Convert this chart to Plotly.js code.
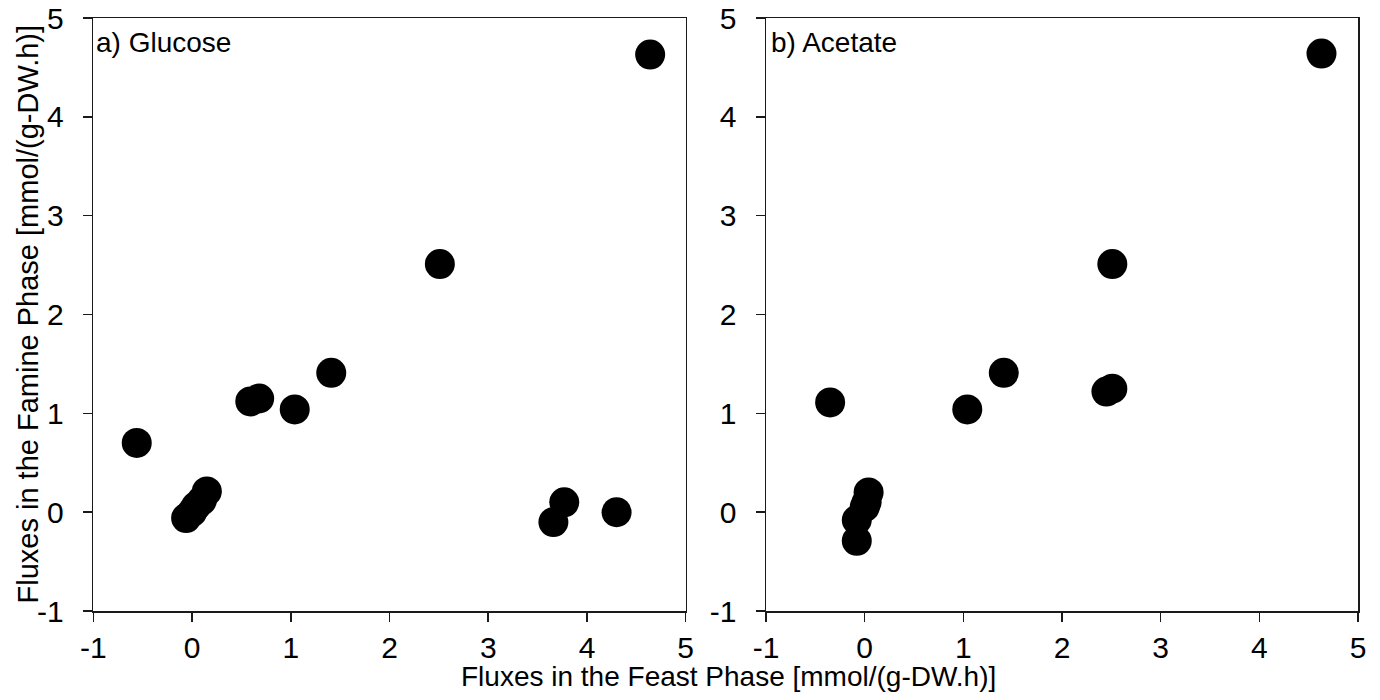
<!DOCTYPE html>
<html>
<head>
<meta charset="utf-8">
<script src="https://cdn.plot.ly/plotly-3.0.1.min.js"></script>
<style>html,body{margin:0;padding:0;background:#fff;}#chart{width:1380px;height:700px;}</style>
</head>
<body>
<div id="chart"></div>
<script>
const glucoseX = [4.64, 2.51, 1.41, 1.04, 0.59, 0.68, -0.56, -0.06, 0.00, 0.04, 0.10, 0.15, 3.66, 3.77, 4.30];
const glucoseY = [4.63, 2.51, 1.41, 1.04, 1.12, 1.15, 0.70, -0.06, 0.00, 0.06, 0.12, 0.21, -0.10, 0.10, 0.00];
const acetateX = [4.63, 2.51, 1.41, 1.04, 2.45, 2.51, -0.35, 0.04, 0.02, 0.00, -0.08, -0.08];
const acetateY = [4.64, 2.51, 1.41, 1.04, 1.22, 1.25, 1.11, 0.20, 0.10, 0.05, -0.08, -0.29];
const tickVals = [-1, 0, 1, 2, 3, 4, 5];
const panelLabels = ["a) Glucose", "b) Acetate"];
const xTitle = "Fluxes in the Feast Phase [mmol/(g-DW.h)]";
const yTitle = "Fluxes in the Famine Phase [mmol/(g-DW.h)]";

const W = 1380, H = 700;
const FONT = 'Arial, "Liberation Sans", sans-serif';
const marker = {size: 30, color: '#000', line: {width: 0}};

const traces = [
  {x: glucoseX, y: glucoseY, type: 'scatter', mode: 'markers', marker: marker, xaxis: 'x', yaxis: 'y', hoverinfo: 'x+y'},
  {x: acetateX, y: acetateY, type: 'scatter', mode: 'markers', marker: marker, xaxis: 'x2', yaxis: 'y2', hoverinfo: 'x+y'}
];

function ax(extra) {
  return Object.assign({
    range: [-1, 5], tickvals: tickVals, ticktext: tickVals.map(String),
    showgrid: false, zeroline: false, showline: true, mirror: true,
    linecolor: '#1a1a1a', linewidth: 1.5, ticks: 'outside', ticklen: 9, tickwidth: 1.5,
    tickcolor: '#1a1a1a', tickfont: {family: FONT, size: 30, color: '#000'}
  }, extra);
}

const layout = {
  width: W, height: H,
  margin: {l: 0, r: 0, t: 18, b: 89},
  paper_bgcolor: '#fff', plot_bgcolor: '#fff',
  showlegend: false,
  font: {family: FONT, color: '#000'},
  xaxis: ax({domain: [93.3 / W, 685.7 / W], anchor: 'y', ticklabelstandoff: 0}),
  yaxis: ax({domain: [0, 1], anchor: 'x', ticklabelstandoff: 13}),
  xaxis2: ax({domain: [766 / W, 1358 / W], anchor: 'y2', ticklabelstandoff: 0}),
  yaxis2: ax({domain: [0, 1], anchor: 'x2', ticklabelstandoff: 13}),
  annotations: [
    {text: panelLabels[0], xref: 'paper', yref: 'paper', x: 94 / W, y: 1 - 7 / 593, xanchor: 'left', yanchor: 'top', showarrow: false, font: {family: FONT, size: 28, color: '#000'}},
    {text: panelLabels[1], xref: 'paper', yref: 'paper', x: 768.5 / W, y: 1 - 7 / 593, xanchor: 'left', yanchor: 'top', showarrow: false, font: {family: FONT, size: 28, color: '#000'}},
    {text: xTitle, xref: 'paper', yref: 'paper', x: 728 / W, y: -(676 - 611) / 593, xanchor: 'center', yanchor: 'middle', showarrow: false, font: {family: FONT, size: 28, color: '#000'}},
    {text: yTitle, xref: 'paper', yref: 'paper', x: 27 / W, y: 0.5, xanchor: 'center', yanchor: 'middle', textangle: -90, showarrow: false, font: {family: FONT, size: 29, color: '#000'}}
  ]
};

Plotly.newPlot('chart', traces, layout, {displayModeBar: false, staticPlot: true});
</script>
</body>
</html>
